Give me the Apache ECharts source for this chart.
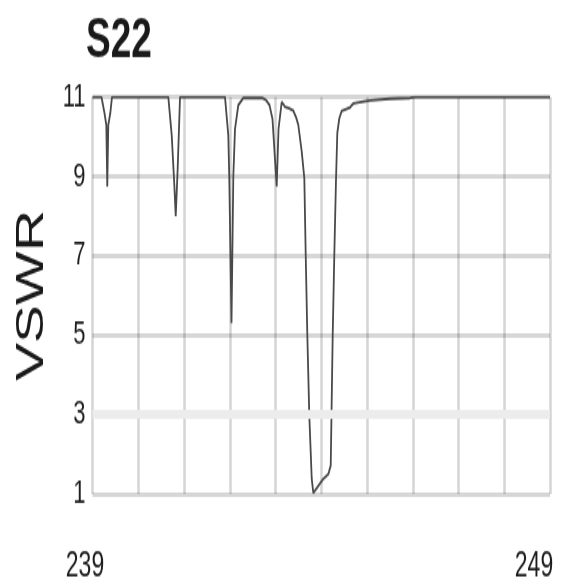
<!DOCTYPE html>
<html><head><meta charset="utf-8">
<script src="https://cdn.jsdelivr.net/npm/echarts@6/dist/echarts.min.js"></script>
<style>
html,body{margin:0;padding:0;background:#fff;overflow:hidden;}
#wrap{width:563px;height:584px;overflow:hidden;position:relative;}
#chart{width:563px;height:389px;transform:scaleY(1.5013);transform-origin:0 0;}
</style></head><body><div id="wrap"><div id="chart"></div></div>
<script>
const chartTitle = 'S22';
const yAxisName = 'VSWR';
const xMin = 239, xMax = 249;
const yMin = 1, yMax = 11, yStep = 2;
const xTickLabels = ['239', '249'];
const freq = [239.000, 239.197, 239.262, 239.302, 239.323, 239.345, 239.389, 239.426,
  240.657, 240.731, 240.788, 240.819, 240.862, 240.913,
  241.896, 241.968, 241.990, 242.038, 242.078, 242.115, 242.187, 242.296, 242.705,
  242.792, 242.869, 242.934, 243.026, 243.066, 243.136, 243.208, 243.295, 243.389,
  243.448, 243.498, 243.573, 243.630, 243.661, 243.696, 243.739, 243.792, 243.827,
  243.936, 244.045, 244.154, 244.207, 244.224, 244.250, 244.285, 244.322, 244.351,
  244.394, 244.447, 244.628, 244.700, 245.066, 245.503, 245.940, 246.049, 249.000];
const vswr = [11, 11, 10.6, 10.3, 8.75, 10.3, 10.6, 11,
  11, 10.05, 8.8, 8.0, 9.2, 11,
  11, 10.05, 8.96, 5.3, 9.0, 10.2, 10.8, 10.98, 10.98,
  10.93, 10.8, 10.45, 8.75, 10.2, 10.88, 10.76, 10.72, 10.66,
  10.5, 10.3, 9.63, 8.96, 7.0, 4.98, 2.97, 1.38, 1.02,
  1.2, 1.38, 1.5, 1.71, 3.0, 4.98, 7.0, 8.9, 10.1,
  10.46, 10.65, 10.74, 10.84, 10.92, 10.96, 10.98, 11, 11];

const FONT = '"Liberation Sans", Arial, sans-serif';
const chart = echarts.init(document.getElementById('chart'));
chart.setOption({
  animation: false,
  backgroundColor: '#fff',
  title: {
    text: chartTitle, left: 86, top: 9, padding: 0,
    textStyle: { fontFamily: FONT, fontSize: 37, fontWeight: 'bold', color: '#1a1a1a' }
  },
  grid: { left: 92.5, right: 13, top: 64.7, bottom: 59.3, containLabel: false },
  xAxis: {
    type: 'value', min: xMin, max: xMax, interval: 1,
    axisLine: { show: false }, axisTick: { show: false },
    splitLine: { show: true, lineStyle: { color: 'rgba(0,0,0,0.17)', width: 2.5 } },
    axisLabel: {
      show: true, margin: 37, showMinLabel: true, showMaxLabel: true,
      fontFamily: FONT, fontSize: 23, color: '#1e1e1e',
      formatter: function (v) {
        const s = String(v);
        if (s === xTickLabels[0]) return '{l|' + s + '}';
        if (s === xTickLabels[1]) return '{r|' + s + '}';
        return '';
      },
      rich: {
        l: { fontFamily: FONT, fontSize: 23, color: '#1e1e1e', padding: [0, 15, 0, 0] },
        r: { fontFamily: FONT, fontSize: 23, color: '#1e1e1e', padding: [0, 32, 0, 0] }
      }
    }
  },
  yAxis: {
    type: 'value', min: yMin, max: yMax, interval: yStep,
    name: yAxisName, nameLocation: 'middle', nameGap: 40, nameRotate: 90,
    nameTextStyle: { fontFamily: FONT, fontSize: 38, color: '#1a1a1a' },
    axisLine: { show: false }, axisTick: { show: false },
    splitLine: { show: true, lineStyle: { color: ['#d6d6d6', '#ececec', '#d6d6d6', '#d6d6d6', '#d6d6d6', '#d6d6d6'], width: 3 } },
    axisLabel: { margin: 7, fontFamily: FONT, fontSize: 22, color: '#1e1e1e' }
  },
  series: [
    {
      type: 'line', data: [], z: -1, silent: true,
      markLine: {
        silent: true, symbol: 'none', label: { show: false },
        lineStyle: { color: '#ececec', width: 6, type: 'solid' },
        data: [{ yAxis: 3 }]
      }
    },
    {
      type: 'line', showSymbol: false, symbol: 'none', smooth: false,
      data: freq.map((f, i) => [f, vswr[i]]),
      lineStyle: { color: '#4a4a4a', width: 1.8 }
    }
  ]
});
</script></body></html>
